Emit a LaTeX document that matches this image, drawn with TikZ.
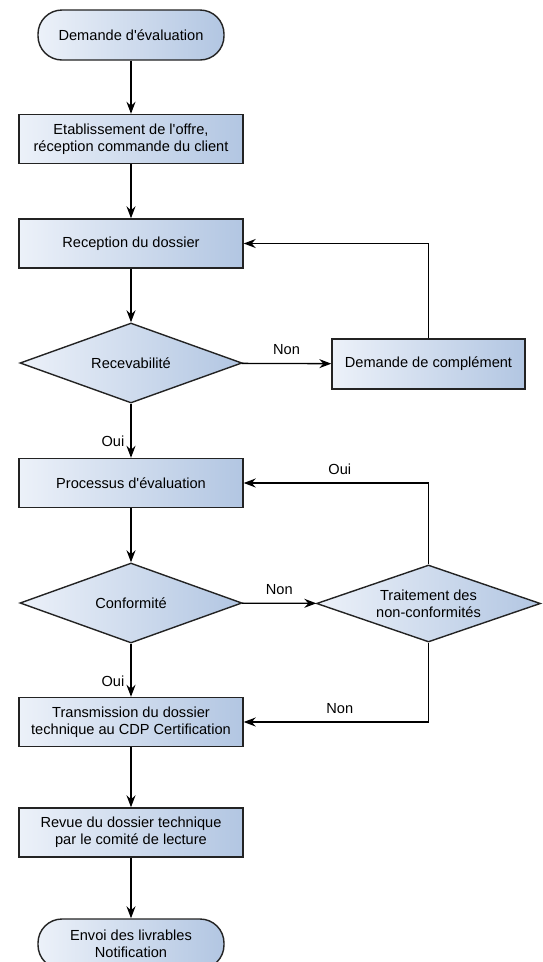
\documentclass[tikz,border=0pt]{standalone}
\usepackage{fontspec}
\setmainfont{Liberation Sans}[Ligatures=TeXOff]
\usetikzlibrary{shapes.geometric,arrows.meta}
\definecolor{fillL}{RGB}{236,241,249}
\definecolor{fillR}{RGB}{178,198,226}
\definecolor{edgecol}{RGB}{35,35,35}
\begin{document}
\begin{tikzpicture}[x=1pt,y=-1pt,
  every node/.style={font=\fontsize{14.6}{17}\selectfont, text=black},
  base/.style={draw=edgecol, line width=1.4pt, left color=fillL, right color=fillR, align=center},
  proc/.style={base, rectangle, minimum width=224pt, minimum height=49pt, inner sep=0pt},
  term/.style={base, rectangle, rounded corners=24pt, minimum width=186pt, minimum height=50pt, inner sep=0pt},
  decision/.style={base, diamond, aspect=2.8, inner sep=0pt, minimum width=222pt, minimum height=80pt},
  arr/.style={draw=black, line width=1.3pt, -{Stealth[length=12pt,width=9pt,inset=4pt]}},
  lbl/.style={inner sep=2pt}]
\useasboundingbox (0,0) rectangle (543,962);
\clip (0,0) rectangle (543,962);
\node[term] (start) at (131,35) {Demande d'évaluation};
\node[proc] (offre) at (131,139) {Etablissement de l'offre,\\réception commande du client};
\node[proc] (recep) at (131,243.5) {Reception du dossier};
\node[decision] (recev) at (131,363) {Recevabilité};
\node[proc, minimum width=193pt, minimum height=50pt] (compl) at (428.5,364) {Demande de complément};
\node[proc] (eval) at (131,483) {Processus d'évaluation};
\node[decision] (conf) at (131,603) {Conformité};
\node[decision, minimum width=224pt, minimum height=77pt] (trait) at (428.5,603.5) {Traitement des\\non-conformités};
\node[proc] (trans) at (131,722) {Transmission du dossier\\technique au CDP Certification};
\node[proc] (revue) at (131,832.5) {Revue du dossier technique\\par le comité de lecture};
\node[term] (fin) at (131,944) {Envoi des livrables\\Notification};

\draw[arr] (start) -- (offre);
\draw[arr] (offre) -- (recep);
\draw[arr] (recep) -- (recev);
\draw[arr] (recev) -- node[lbl, above=6pt]{Non} (compl);
\draw[arr] (compl.north) |- (recep.east);
\draw[arr] (recev) -- node[lbl, left=4pt, pos=0.7]{Oui} (eval);
\draw[arr] (eval) -- (conf);
\draw[arr] (conf) -- node[lbl, above=6pt]{Non} (trait);
\draw[arr] (trait.north) |- node[lbl, above=6pt, pos=0.74]{Oui} (eval.east);
\draw[arr] (trait.south) |- node[lbl, above=6pt, pos=0.74]{Non} (trans.east);
\draw[arr] (conf) -- node[lbl, left=4pt, pos=0.7]{Oui} (trans);
\draw[arr] (trans) -- (revue);
\draw[arr] (revue) -- (fin);
\end{tikzpicture}
\end{document}
